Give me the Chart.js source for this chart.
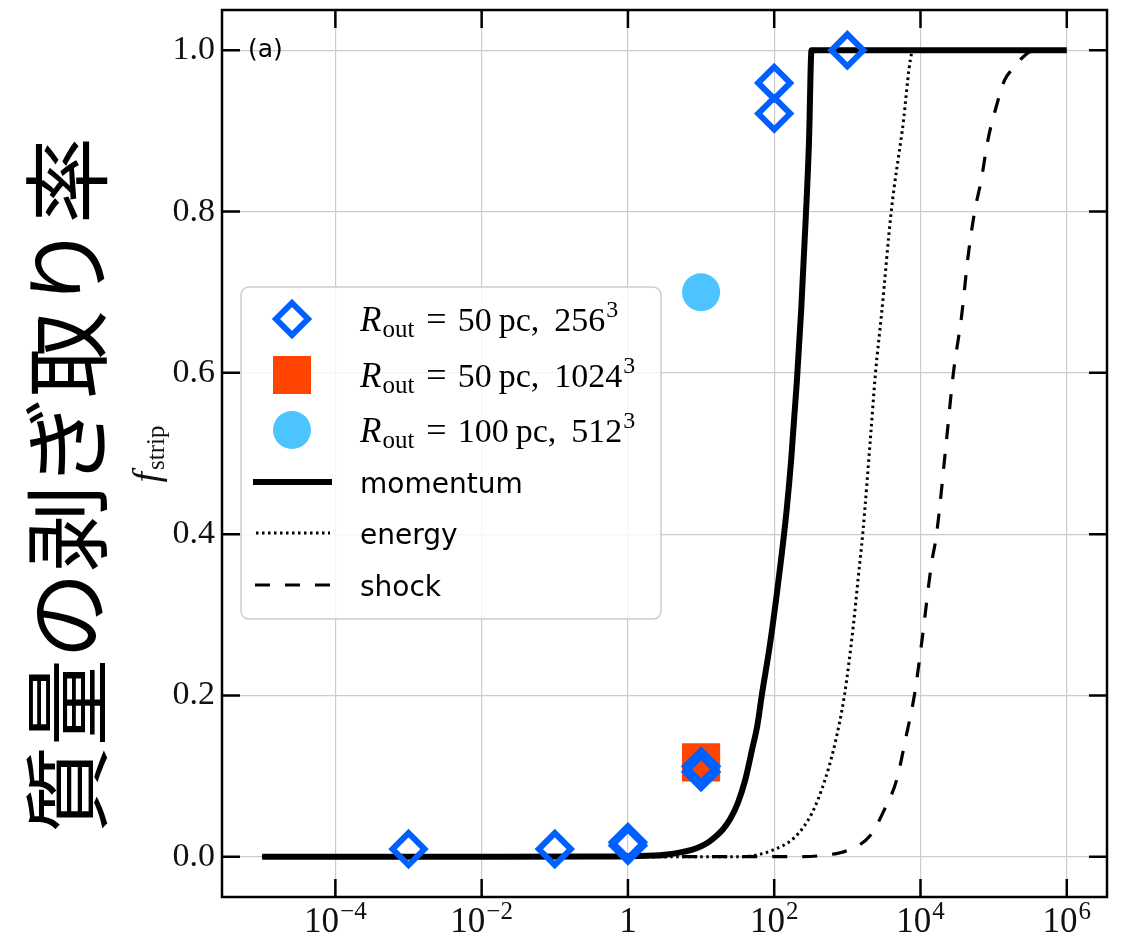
<!DOCTYPE html>
<html>
<head>
<meta charset="utf-8">
<script src="https://cdn.jsdelivr.net/npm/chart.js@4.4.1/dist/chart.umd.min.js"></script>
<style>
html,body{margin:0;padding:0;background:#ffffff;}
#wrap{width:1127px;height:937px;position:relative;}
</style>
</head>
<body>
<div id="wrap"><canvas id="c" width="1127" height="937"></canvas></div>
<script>
// ---------- text ----------
const yTitle = '質量の剥ぎ取り率';
const yVarName = 'f';
const yVarSub = 'strip';
const panelLabel = '(a)';

// ---------- ticks ----------
const xTickExps = [-4, -2, 0, 2, 4, 6];
const yTickValues = [0, 0.2, 0.4, 0.6, 0.8, 1.0];
const xRangeExps = [-5.55, 6.55];
const yRange = [-0.05, 1.05];

// ---------- series names ----------
const seriesNames = [
  'R_out = 50 pc, 256^3',
  'R_out = 50 pc, 1024^3',
  'R_out = 100 pc, 512^3',
  'momentum', 'energy', 'shock'
];

// ---------- simulation points ----------
const run256X = [1e-3, 1e-1, 1, 1, 10, 10, 100, 100, 1000];
const run256Y = [0.0095, 0.0095, 0.014, 0.018, 0.105, 0.112, 0.9215, 0.9595, 1.0];
const run1024X = [10];
const run1024Y = [0.117];
const run512X = [10];
const run512Y = [0.70];

// ---------- model curves (x given as log10 values) ----------
const momentumLogX = [-5, -0.5, 0.14, 0.5, 0.7, 0.87, 1.0, 1.1, 1.2, 1.3, 1.4, 1.5, 1.6, 1.7, 1.77, 1.83, 1.94, 2.03, 2.10, 2.17, 2.23, 2.31, 2.37, 2.43, 2.475, 2.51, 6];
const momentumY    = [0, 0.0001, 0.0008, 0.0025, 0.005, 0.0085, 0.013, 0.018, 0.025, 0.034, 0.047, 0.066, 0.094, 0.134, 0.163, 0.2, 0.262, 0.322, 0.373, 0.43, 0.49, 0.59, 0.68, 0.79, 0.885, 1.0, 1.0];

const energyLogX = [-5, 1.5, 1.69, 1.96, 2.28, 2.51, 2.69, 2.83, 2.96, 3.08, 3.15, 3.21, 3.32, 3.385, 3.47, 3.6, 3.75, 3.9, 6];
const energyY    = [0, 0, 0.001, 0.0074, 0.024, 0.053, 0.094, 0.14, 0.2, 0.285, 0.347, 0.4, 0.524, 0.6, 0.675, 0.8, 0.9, 1.0, 1.0];

const shockLogX = [-5, 2.4, 2.7, 2.99, 3.31, 3.51, 3.67, 3.81, 3.92, 4.02, 4.15, 4.22, 4.355, 4.45, 4.56, 4.65, 4.74, 4.83, 4.92, 5.02, 5.15, 5.24, 5.43, 5.55, 6];
const shockY    = [0, 0, 0.002, 0.0074, 0.026, 0.059, 0.094, 0.152, 0.202, 0.268, 0.363, 0.4, 0.516, 0.6, 0.669, 0.744, 0.8, 0.839, 0.888, 0.925, 0.963, 0.975, 0.994, 1.0, 1.0];

// ---------- styles ----------
const BLUE = '#0060ff';
const ORANGE = '#ff4500';
const SKY = '#4dc3ff';
const SERIF = '"Liberation Serif", "DejaVu Serif", serif';
const SANS = '"DejaVu Sans", sans-serif';

const pts = (xs, ys) => xs.map((x, i) => ({x: x, y: ys[i]}));
const ptsLog = (ls, ys) => ls.map((l, i) => ({x: Math.pow(10, l), y: ys[i]}));

const datasets = [
  {label: seriesNames[0], data: pts(run256X, run256Y), showLine: false,
   pointStyle: 'rectRot', pointRadius: 16, pointBorderWidth: 6,
   pointBorderColor: BLUE, pointBackgroundColor: 'rgba(0,0,0,0)'},
  {label: seriesNames[1], data: pts(run1024X, run1024Y), showLine: false,
   pointStyle: 'rect', pointRadius: 27, pointBorderWidth: 0,
   pointBorderColor: ORANGE, pointBackgroundColor: ORANGE},
  {label: seriesNames[2], data: pts(run512X, run512Y), showLine: false,
   pointStyle: 'circle', pointRadius: 19, pointBorderWidth: 0,
   pointBorderColor: SKY, pointBackgroundColor: SKY},
  {label: seriesNames[3], data: ptsLog(momentumLogX, momentumY), showLine: true,
   borderColor: '#000', borderWidth: 6, pointRadius: 0, fill: false,
   cubicInterpolationMode: 'monotone', borderCapStyle: 'butt', borderJoinStyle: 'miter'},
  {label: seriesNames[4], data: ptsLog(energyLogX, energyY), showLine: true,
   borderColor: '#000', borderWidth: 3, borderDash: [2.5, 3.5], pointRadius: 0, fill: false,
   cubicInterpolationMode: 'monotone', borderCapStyle: 'butt'},
  {label: seriesNames[5], data: ptsLog(shockLogX, shockY), showLine: true,
   borderColor: '#000', borderWidth: 3.2, borderDash: [15, 15], pointRadius: 0, fill: false,
   cubicInterpolationMode: 'monotone', borderCapStyle: 'butt'}
];

function drawRich(ctx, x, y, parts) {
  let cx = x;
  for (const p of parts) {
    cx += p.gap || 0;
    ctx.font = p.f;
    ctx.fillText(p.t, cx, y + (p.dy || 0));
    cx += ctx.measureText(p.t).width;
  }
  return cx - x;
}
function richWidth(ctx, parts) {
  let w = 0;
  for (const p of parts) { w += p.gap || 0; ctx.font = p.f; w += ctx.measureText(p.t).width; }
  return w;
}
function mathParts(radius, res, resExp) {
  const F = '34px ' + SERIF;
  return [
    {t: 'R', f: 'italic 35px ' + SERIF},
    {t: 'out', f: '25px ' + SERIF, dy: 6, gap: 1},
    {t: '=', f: '36px ' + SERIF, gap: 12},
    {t: radius, f: F, gap: 11},
    {t: 'pc', f: F, gap: 7},
    {t: ',', f: F},
    {t: res, f: F, gap: 15},
    {t: resExp, f: '24px ' + SERIF, dy: -14, gap: 1}
  ];
}

const decorPlugin = {
  id: 'decor',
  afterDatasetsDraw(chart) {
    const ctx = chart.ctx;
    const a = chart.chartArea;
    const xs = chart.scales.x, ys = chart.scales.y;
    ctx.save();
    // frame
    ctx.strokeStyle = '#000';
    ctx.lineWidth = 2.5;
    ctx.strokeRect(a.left, a.top, a.right - a.left, a.bottom - a.top);
    // inward ticks
    const TL = 18;
    ctx.lineWidth = 2.5;
    ctx.beginPath();
    xTickExps.forEach(e => {
      const px = xs.getPixelForValue(Math.pow(10, e));
      ctx.moveTo(px, a.bottom); ctx.lineTo(px, a.bottom - TL);
      ctx.moveTo(px, a.top); ctx.lineTo(px, a.top + TL);
    });
    yTickValues.forEach(v => {
      const py = ys.getPixelForValue(v);
      ctx.moveTo(a.left, py); ctx.lineTo(a.left + TL, py);
      ctx.moveTo(a.right, py); ctx.lineTo(a.right - TL, py);
    });
    ctx.stroke();

    // x tick labels with superscripts
    ctx.fillStyle = '#111';
    ctx.textBaseline = 'alphabetic';
    ctx.textAlign = 'left';
    xTickExps.forEach(e => {
      const px = xs.getPixelForValue(Math.pow(10, e));
      let parts;
      if (e === 0) parts = [{t: '1', f: '35px ' + SERIF}];
      else parts = [{t: '10', f: '35px ' + SERIF},
                    {t: (e < 0 ? '\u2212' + Math.abs(e) : String(e)), f: '25px ' + SERIF, dy: -13, gap: 1}];
      const w = richWidth(ctx, parts);
      drawRich(ctx, px - w / 2, 932, parts);
    });

    // panel label
    ctx.font = '25px ' + SANS;
    ctx.textBaseline = 'middle';
    ctx.fillStyle = '#000';
    ctx.fillText(panelLabel, 248, ys.getPixelForValue(1.0));

    // legend box
    const L = {x: 241, y: 287, w: 420, h: 332, r: 8};
    ctx.beginPath();
    ctx.roundRect(L.x, L.y, L.w, L.h, L.r);
    ctx.fillStyle = 'rgba(255,255,255,0.8)';
    ctx.fill();
    ctx.strokeStyle = '#cccccc';
    ctx.lineWidth = 1.5;
    ctx.stroke();

    const rows = [319, 375, 430, 482, 533, 585];
    const mx = 292, tx = 360;
    // diamond
    ctx.beginPath();
    ctx.moveTo(mx, rows[0] - 16); ctx.lineTo(mx + 16, rows[0]);
    ctx.lineTo(mx, rows[0] + 16); ctx.lineTo(mx - 16, rows[0]); ctx.closePath();
    ctx.strokeStyle = BLUE; ctx.lineWidth = 6; ctx.lineJoin = 'miter'; ctx.stroke();
    // square
    ctx.fillStyle = ORANGE;
    ctx.fillRect(mx - 19, rows[1] - 19, 38, 38);
    // circle
    ctx.beginPath(); ctx.arc(mx, rows[2], 19, 0, Math.PI * 2); ctx.fillStyle = SKY; ctx.fill();
    // lines
    ctx.strokeStyle = '#000';
    ctx.lineCap = 'butt';
    ctx.lineWidth = 6; ctx.setLineDash([]);
    ctx.beginPath(); ctx.moveTo(253, rows[3]); ctx.lineTo(332, rows[3]); ctx.stroke();
    ctx.lineWidth = 3; ctx.setLineDash([2.5, 3.5]);
    ctx.beginPath(); ctx.moveTo(256, rows[4]); ctx.lineTo(330, rows[4]); ctx.stroke();
    ctx.lineWidth = 3.2; ctx.setLineDash([15, 15]);
    ctx.beginPath(); ctx.moveTo(255, rows[5]); ctx.lineTo(332, rows[5]); ctx.stroke();
    ctx.setLineDash([]);

    // legend texts
    ctx.fillStyle = '#000';
    ctx.textBaseline = 'alphabetic';
    drawRich(ctx, tx, rows[0] + 12, mathParts('50', '256', '3'));
    drawRich(ctx, tx, rows[1] + 12, mathParts('50', '1024', '3'));
    drawRich(ctx, tx, rows[2] + 12, mathParts('100', '512', '3'));
    ctx.font = '28px ' + SANS;
    ctx.fillText(seriesNames[3], tx, rows[3] + 11);
    ctx.fillText(seriesNames[4], tx, rows[4] + 11);
    ctx.fillText(seriesNames[5], tx, rows[5] + 11);

    // f_strip axis label (rotated)
    ctx.save();
    ctx.translate(159, 454);
    ctx.rotate(-Math.PI / 2);
    const fparts = [{t: yVarName, f: 'italic 38px ' + SERIF}, {t: yVarSub, f: '25px ' + SERIF, dy: 5, gap: 2}];
    const fw = richWidth(ctx, fparts);
    ctx.fillStyle = '#111';
    drawRich(ctx, -fw / 2, 0, fparts);
    ctx.restore();

    // big Japanese title (rotated)
    ctx.save();
    ctx.translate(67, 485);
    ctx.rotate(-Math.PI / 2);
    ctx.textAlign = 'center';
    ctx.textBaseline = 'middle';
    ctx.font = '87px "Noto Sans CJK JP", sans-serif';
    ctx.fillStyle = '#000';
    ctx.fillText(yTitle, 0, 0);
    ctx.restore();

    ctx.restore();
  }
};

new Chart(document.getElementById('c').getContext('2d'), {
  type: 'scatter',
  data: {datasets: datasets},
  options: {
    responsive: false,
    animation: false,
    devicePixelRatio: 1,
    events: [],
    layout: {autoPadding: false, padding: {left: 0, top: 10, right: 20, bottom: 0}},
    plugins: {legend: {display: false}, tooltip: {enabled: false}},
    scales: {
      x: {
        type: 'logarithmic',
        position: 'bottom',
        min: Math.pow(10, xRangeExps[0]),
        max: Math.pow(10, xRangeExps[1]),
        afterBuildTicks: s => { s.ticks = xTickExps.map(e => ({value: Math.pow(10, e), major: true})); },
        afterFit: s => { s.height = 40; s.paddingLeft = 0; s.paddingRight = 0; },
        grid: {color: '#cccccc', lineWidth: 1.2, drawTicks: false},
        border: {display: false},
        ticks: {display: false}
      },
      y: {
        type: 'linear',
        position: 'left',
        min: yRange[0],
        max: yRange[1],
        afterBuildTicks: s => { s.ticks = yTickValues.map(v => ({value: v})); },
        afterFit: s => { s.width = 222; s.paddingTop = 0; s.paddingBottom = 0; },
        grid: {color: '#cccccc', lineWidth: 1.2, drawTicks: false},
        border: {display: false},
        ticks: {
          font: {family: '"Liberation Serif", "DejaVu Serif", serif', size: 34},
          color: '#111',
          padding: 7,
          callback: v => Number(v).toFixed(1)
        }
      }
    }
  },
  plugins: [decorPlugin]
});
</script>
</body>
</html>
